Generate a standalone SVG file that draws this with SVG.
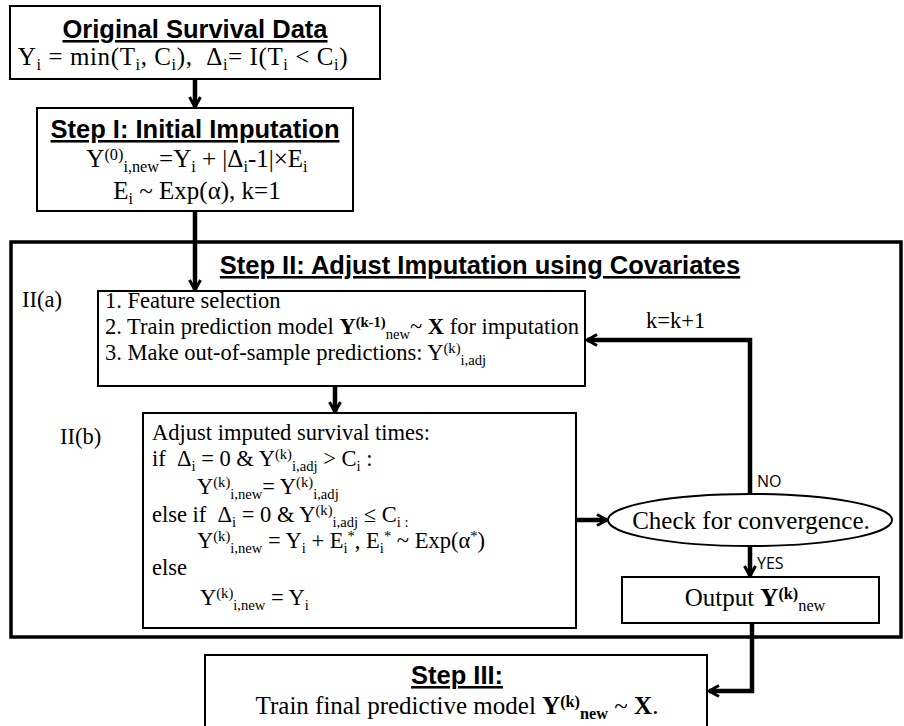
<svg xmlns="http://www.w3.org/2000/svg" width="904" height="726" viewBox="0 0 904 726">
<style>
.bg{fill:#fff}
.box{fill:#fff;stroke:#000;stroke-width:2}
.big{fill:none;stroke:#000;stroke-width:3.5}
.con{fill:none;stroke:#000;stroke-width:4.5;stroke-linejoin:miter}
.t{font-family:"Liberation Serif","Times New Roman",serif;font-size:22.5px;fill:#000}
.f{font-family:"Liberation Serif","Times New Roman",serif;font-size:25px;fill:#000}
.h{font-family:"Liberation Sans",Arial,sans-serif;font-weight:bold;font-size:25.5px;text-decoration:underline;fill:#000}
.lab{font-family:"Open Sans","Liberation Sans",sans-serif;font-size:16px;fill:#000}
.b{font-weight:bold}
.sup{font-size:65%;baseline-shift:7.5px}
.sub{font-size:65%;baseline-shift:-4.5px}
</style>
<defs>
<marker id="arr" viewBox="0 0 16 16" refX="14" refY="8" markerWidth="16" markerHeight="16" markerUnits="userSpaceOnUse" orient="auto">
<path d="M4,2.5 L14,8 L4,13.5" fill="none" stroke="#000" stroke-width="3"/>
</marker>
</defs>
<rect class="bg" x="0" y="0" width="904" height="726"/>

<g id="step2">
<rect class="big" x="11" y="242" width="890" height="395"/>
<text class="h" x="480" y="274" text-anchor="middle">Step II: Adjust Imputation using Covariates</text>
<text class="t" x="22" y="307" font-size="24">II(a)</text>
<text class="t" x="60" y="444" font-size="24">II(b)</text>
</g>

<g id="orig">
<rect class="box" x="10" y="6" width="370" height="73"/>
<text class="h" x="195" y="38" text-anchor="middle">Original Survival Data</text>
<text class="f" x="183" y="65" text-anchor="middle" font-size="28" letter-spacing="0.6">Y<tspan class="sub">i</tspan> = min(T<tspan class="sub">i</tspan>, C<tspan class="sub">i</tspan>),&#160; Δ<tspan class="sub">i</tspan>= I(T<tspan class="sub">i</tspan> &lt; C<tspan class="sub">i</tspan>)</text>
</g>

<g id="step1">
<rect class="box" x="37" y="108" width="316" height="103"/>
<text class="h" x="195" y="138" text-anchor="middle">Step I: Initial Imputation</text>
<text class="f" x="197" y="167" text-anchor="middle">Y<tspan class="sup">(0)</tspan><tspan class="sub">i,new</tspan>=Y<tspan class="sub">i</tspan> + |Δ<tspan class="sub">i</tspan>-1|×E<tspan class="sub">i</tspan></text>
<text class="f" x="197" y="199" text-anchor="middle">E<tspan class="sub">i</tspan> ~ Exp(α), k=1</text>
</g>

<g id="step2a">
<rect class="box" x="98" y="291" width="487" height="95"/>
<text class="t" x="105" y="308">1. Feature selection</text>
<text class="t" x="105" y="334">2. Train prediction model <tspan class="b">Y</tspan><tspan class="sup b">(k-1)</tspan><tspan class="sub">new</tspan>~ <tspan class="b">X</tspan> for imputation</text>
<text class="t" x="105" y="360">3. Make out-of-sample predictions: Y<tspan class="sup">(k)</tspan><tspan class="sub">i,adj</tspan></text>
</g>

<g id="step2b">
<rect class="box" x="143" y="413" width="433" height="215"/>
<text class="t" x="152" y="440">Adjust imputed survival times:</text>
<text class="t" x="152" y="466">if&#160; Δ<tspan class="sub">i</tspan> = 0 &amp; Y<tspan class="sup">(k)</tspan><tspan class="sub">i,adj</tspan> &gt; C<tspan class="sub">i</tspan> :</text>
<text class="t" x="197" y="493.5">Y<tspan class="sup">(k)</tspan><tspan class="sub">i,new</tspan>= Y<tspan class="sup">(k)</tspan><tspan class="sub">i,adj</tspan></text>
<text class="t" x="152" y="521.5">else if&#160; Δ<tspan class="sub">i</tspan> = 0 &amp; Y<tspan class="sup">(k)</tspan><tspan class="sub">i,adj</tspan> ≤ C<tspan class="sub">i :</tspan></text>
<text class="t" x="197" y="548">Y<tspan class="sup">(k)</tspan><tspan class="sub">i,new</tspan> = Y<tspan class="sub">i</tspan> + E<tspan class="sub">i</tspan><tspan class="sup">*</tspan>, E<tspan class="sub">i</tspan><tspan class="sup">*</tspan> ~ Exp(α<tspan class="sup">*</tspan>)</text>
<text class="t" x="152" y="575">else</text>
<text class="t" x="200" y="605">Y<tspan class="sup">(k)</tspan><tspan class="sub">i,new</tspan> = Y<tspan class="sub">i</tspan></text>
</g>

<g id="check">
<ellipse class="box" cx="750" cy="520" rx="142" ry="26"/>
<text class="f" x="751" y="529" text-anchor="middle">Check for convergence.</text>
</g>

<g id="output">
<rect class="box" x="622" y="577" width="257" height="46"/>
<text class="f" x="755" y="606" text-anchor="middle">Output <tspan class="b">Y</tspan><tspan class="sup b">(k)</tspan><tspan class="sub" font-size="75%">new</tspan></text>
</g>

<g id="step3">
<rect class="box" x="205" y="655" width="502" height="80"/>
<text class="h" x="457" y="684" text-anchor="middle">Step III:</text>
<text class="f" x="457" y="714" text-anchor="middle">Train final predictive model <tspan class="b">Y</tspan><tspan class="sup b">(k)</tspan><tspan class="sub b">new</tspan> ~ <tspan class="b">X</tspan>.</text>
</g>

<g id="connectors">
<path class="con" d="M195,79 V107" marker-end="url(#arr)"/>
<path class="con" d="M195,211 V290" marker-end="url(#arr)"/>
<path class="con" d="M335,386 V412" marker-end="url(#arr)"/>
<path class="con" d="M576,520 H607" marker-end="url(#arr)"/>
<path class="con" d="M750,494 V340 H587" marker-end="url(#arr)"/>
<path class="con" d="M750,546 V576" marker-end="url(#arr)"/>
<path class="con" d="M752,623 V691 H709" marker-end="url(#arr)"/>
<text class="t" x="646" y="328" font-size="24">k=k+1</text>
<text class="lab" x="757" y="487">NO</text>
<text class="lab" x="757" y="569">YES</text>
</g>
</svg>
